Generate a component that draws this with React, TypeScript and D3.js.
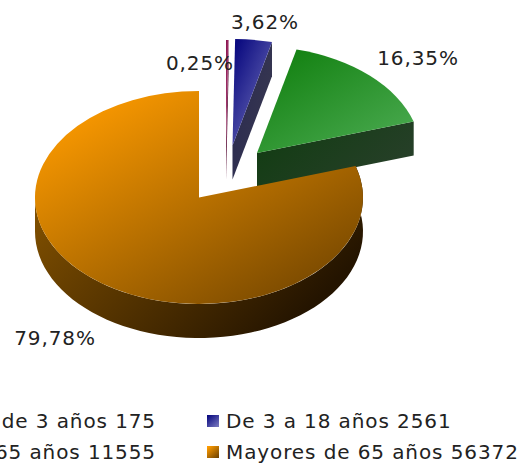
import React from "react";
import * as d3 from "d3";

const categories = ["Menores de 3 años", "De 3 a 18 años", "De 18 a 65 años", "Mayores de 65 años"];
const counts = [175, 2561, 11555, 56372];
const percentLabels = ["0,25%", "3,62%", "16,35%", "79,78%"];
const topStart = ["#8a1450", "#0a0a80", "#128010", "#ff9c00"];
const topEnd = ["#c06090", "#7474bc", "#4aaa50", "#744600"];
const wallStart = ["#5a1038", "#2a2a50", "#103c10", "#8a5600"];
const wallEnd = ["#5a1038", "#363650", "#263f28", "#241400"];
const offsets: [number, number][] = [[27, -51], [33.5, -52], [58, -44.5], [0, 0]];
const labelPos: [number, number][] = [[200, 70], [265, 29], [418, 65], [55, 345]];

const W = 522, H = 464;
const cx = 199, cy = 197.5, rx = 164, ry = 106.5, depth = 34;
const fontFamily = "'DejaVu Sans', Verdana, sans-serif";
const fontSize = 20;
const tracking = 0.9;

const pt = (a: number, ox: number, oy: number, dy = 0): [number, number] => [
  cx + ox + rx * Math.sin(a),
  cy + oy - ry * Math.cos(a) + dy,
];

export default function App() {
  const slices = d3.pie<number>().sort(null)(counts);
  const arc = d3.arc<d3.PieArcDatum<number>>().innerRadius(0).outerRadius(1);
  const line = d3.line();
  const rowY = [421, 452];

  const wallPath = (a0: number, a1: number, ox: number, oy: number) => {
    const steps = d3.range(0, 61).map((i) => a0 + ((a1 - a0) * i) / 60);
    const front = steps.map((a) => pt(a, ox, oy));
    const back = steps.slice().reverse().map((a) => pt(a, ox, oy, depth));
    return line([...front, ...back]) + "Z";
  };
  const cutPath = (a: number, ox: number, oy: number) =>
    line([
      [cx + ox, cy + oy],
      pt(a, ox, oy),
      pt(a, ox, oy, depth),
      [cx + ox, cy + oy + depth],
    ]) + "Z";

  const order = [0, 1, 2, 3];
  return (
    <svg width={W} height={H} viewBox={`0 0 ${W} ${H}`} style={{ position: "absolute", left: 0, top: 0, display: "block", background: "#fff" }}>
      <defs>
        {order.map((i) => (
          <React.Fragment key={i}>
            <linearGradient id={`top${i}`} x1="0.1" y1="0.05" x2="0.9" y2="0.95">
              <stop offset="0" stopColor={topStart[i]} />
              <stop offset="1" stopColor={topEnd[i]} />
            </linearGradient>
            <linearGradient id={`wall${i}`} x1="0" y1="0" x2="1" y2="0.5">
              <stop offset="0" stopColor={wallStart[i]} />
              <stop offset="1" stopColor={wallEnd[i]} />
            </linearGradient>
          </React.Fragment>
        ))}
      </defs>

      {order.map((i) => {
        const s = slices[i];
        const [ox, oy] = offsets[i];
        const big = i === 3;
        return (
          <g key={i}>
            {big ? (
              <path d={wallPath(Math.PI / 2 - 0.3, Math.PI * 1.5, ox, oy)} fill={`url(#wall${i})`} />
            ) : (
              <path d={cutPath(s.endAngle, ox, oy)} fill={`url(#wall${i})`} />
            )}
            <path
              transform={`translate(${cx + ox},${cy + oy}) scale(${rx},${ry})`}
              d={arc(s) ?? ""}
              fill={`url(#top${i})`}
            />
          </g>
        );
      })}

      {percentLabels.map((t, i) => (
        <text key={i} x={labelPos[i][0]} y={labelPos[i][1]} textAnchor="middle" fontFamily={fontFamily} fontSize={fontSize} letterSpacing={tracking} fill="#222">
          {t}
        </text>
      ))}

      {categories.map((c, i) => {
        const col = i % 2;
        const y = rowY[i < 2 ? 0 : 1];
        return (
          <g key={c}>
            {col === 1 && <rect x={207} y={y - 6} width={12} height={12} fill={`url(#top${i})`} />}
            <text
              x={col === 1 ? 226 : 156}
              y={y + 7}
              textAnchor={col === 1 ? "start" : "end"}
              fontFamily={fontFamily}
              fontSize={fontSize}
              letterSpacing={tracking}
              fill="#222"
            >
              {c} {counts[i]}
            </text>
          </g>
        );
      })}
    </svg>
  );
}
